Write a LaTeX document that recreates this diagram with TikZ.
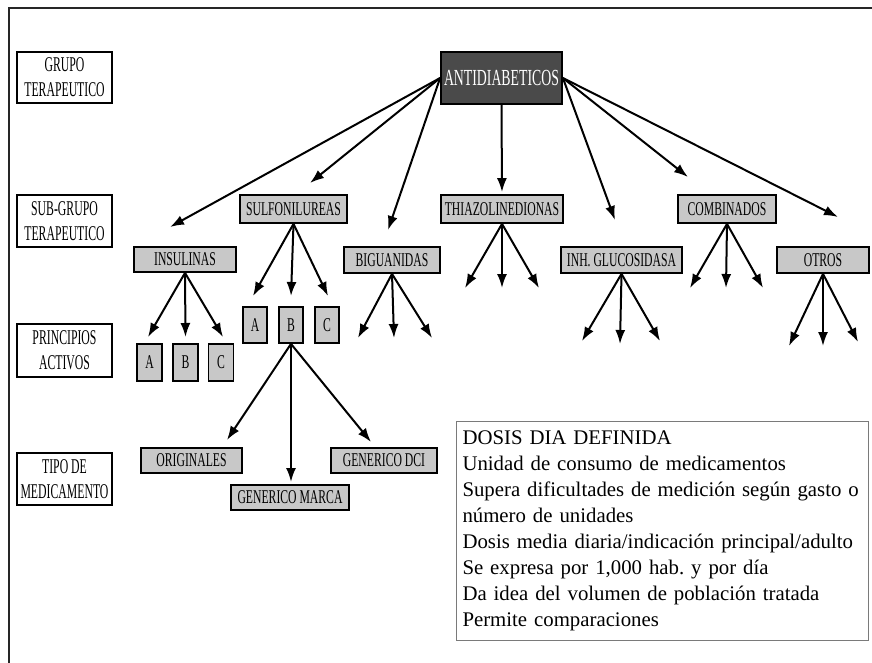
\documentclass[tikz,border=0pt]{standalone}
\usepackage{fontspec}
\setmainfont{Liberation Serif}
\newfontfamily\condfont[FakeStretch=0.6]{Liberation Serif}
\newfontfamily\lblfont[FakeStretch=0.56]{Liberation Serif}
\usetikzlibrary{arrows.meta}
\definecolor{lgray}{HTML}{C8C8C8}
\definecolor{dgray}{HTML}{4A4A4A}
\definecolor{bgray}{HTML}{7A7A7A}
\frenchspacing
\begin{document}
\begin{tikzpicture}[x=1pt,y=-1pt,
  lbl/.style={draw=black, line width=1.6pt, fill=white, inner sep=0pt, align=center,
    font=\lblfont\fontsize{21}{25}\selectfont},
  gbox/.style={draw=black, line width=1.8pt, fill=lgray, inner sep=0pt,
    font=\condfont\fontsize{19.5}{24}\selectfont},
  arr/.style={line width=2pt, -{Latex[length=14pt,width=10pt]}},
  frame/.style={line width=2.4pt, draw=black!85}
]
\useasboundingbox (0,0) rectangle (872,663);
% outer frame (top and left)
\coordinate (fTL) at (9,8);
\coordinate (fTR) at (872,8);
\coordinate (fBL) at (9,663);
\draw[frame] (fTR) -- (fTL) -- (fBL);

% level labels
\node[lbl, minimum width=95pt, minimum height=51pt] (l1) at (64.5,77.5) {GRUPO\\TERAPEUTICO};
\node[lbl, minimum width=95pt, minimum height=52pt] (l2) at (64.5,221) {SUB-GRUPO\\TERAPEUTICO};
\node[lbl, minimum width=95pt, minimum height=53pt] (l3) at (64.5,350.5) {PRINCIPIOS\\ACTIVOS};
\node[lbl, minimum width=95pt, minimum height=52pt] (l4) at (64.5,479) {TIPO DE\\MEDICAMENTO};

% root
\node[draw=black, line width=1.8pt, fill=dgray, text=white, inner sep=0pt,
  minimum width=121pt, minimum height=52pt, font=\condfont\fontsize{23}{26}\selectfont]
  (anti) at (501.5,78) {ANTIDIABETICOS};

% sub-groups
\node[gbox, minimum width=107pt, minimum height=28pt] (sulf) at (293.5,209) {SULFONILUREAS};
\node[gbox, minimum width=102pt, minimum height=25pt] (insu) at (185,259.5) {INSULINAS};
\node[gbox, minimum width=96pt, minimum height=26pt] (bigu) at (392,260) {BIGUANIDAS};
\node[gbox, minimum width=122pt, minimum height=28pt] (thia) at (502,209) {THIAZOLINEDIONAS};
\node[gbox, minimum width=121pt, minimum height=26pt] (inh) at (621.5,260) {INH. GLUCOSIDASA};
\node[gbox, minimum width=98pt, minimum height=28pt] (comb) at (727,209) {COMBINADOS};
\node[gbox, minimum width=92pt, minimum height=26pt] (otros) at (823,260) {OTROS};

% principles
\node[gbox, minimum width=25pt, minimum height=37pt] (iA) at (149.5,362.5) {A};
\node[gbox, minimum width=25pt, minimum height=37pt] (iB) at (185.5,362.5) {B};
\node[gbox, minimum width=25pt, minimum height=37pt] (iC) at (221,362.5) {C};
\node[gbox, minimum width=24pt, minimum height=36pt] (sA) at (255,325) {A};
\node[gbox, minimum width=24pt, minimum height=36pt] (sB) at (291,325) {B};
\node[gbox, minimum width=24pt, minimum height=36pt] (sC) at (327,325) {C};

% types
\node[gbox, minimum width=101pt, minimum height=25pt] (orig) at (191.5,460.5) {ORIGINALES};
\node[gbox, minimum width=118pt, minimum height=25pt] (gmar) at (290,497.5) {GENERICO MARCA};
\node[gbox, minimum width=106pt, minimum height=25pt] (gdci) at (384,460.5) {GENERICO DCI};

% DDD box
\node[draw=bgray, line width=1pt, anchor=north west, text width=400pt, inner xsep=6pt,
  inner ysep=0pt, minimum height=219pt, align=left,
  font=\fontsize{20.8}{26}\selectfont] (ddd) at (456,421)
  {DOSIS DIA DEFINIDA\\
   Unidad de consumo de medicamentos\\
   Supera dificultades de medición según gasto o\\
   número de unidades\\
   Dosis media diaria/indicación principal/adulto\\
   Se expresa por 1,000 hab. y por día\\
   Da idea del volumen de población tratada\\
   Permite comparaciones};

% arrow tips (free ends)
\coordinate (tInsu) at (170,227);
\coordinate (tSulf) at (310,183);
\coordinate (tBigu) at (388,230);
\coordinate (tInh) at (615,220);
\coordinate (tComb) at (688,177);
\coordinate (tOtros) at (838,217);

\draw[arr] (anti.west) -- (tInsu);
\draw[arr] (anti.west) -- (tSulf);
\draw[arr] (anti.west) -- (tBigu);
\draw[arr, shorten >=2pt] (anti.south) -- (thia.north);
\draw[arr] (anti.east) -- (tInh);
\draw[arr] (anti.east) -- (tComb);
\draw[arr] (anti.east) -- (tOtros);

% insulinas -> A B C
\coordinate (iAt) at (148,337);
\coordinate (iBt) at (185.5,337);
\coordinate (iCt) at (223,337);
\draw[arr] (insu.south) -- (iAt);
\draw[arr] (insu.south) -- (iBt);
\draw[arr] (insu.south) -- (iCt);

% sulfonilureas -> A B C
\coordinate (sAt) at (253,296);
\coordinate (sBt) at (291,296);
\coordinate (sCt) at (328,296);
\draw[arr] (sulf.south) -- (sAt);
\draw[arr] (sulf.south) -- (sBt);
\draw[arr] (sulf.south) -- (sCt);

% B -> types
\coordinate (oT) at (227,440);
\coordinate (mT) at (291,482);
\coordinate (dT) at (371,442);
\draw[arr] (sB.south) -- (oT);
\draw[arr] (sB.south) -- (mT);
\draw[arr] (sB.south) -- (dT);

% free fans
\coordinate (b1) at (358,338);
\coordinate (b2) at (394,338);
\coordinate (b3) at (432,338);
\draw[arr] (bigu.south) -- (b1);
\draw[arr] (bigu.south) -- (b2);
\draw[arr] (bigu.south) -- (b3);

\coordinate (t1) at (465,288);
\coordinate (t2) at (502,288);
\coordinate (t3) at (539,288);
\draw[arr] (thia.south) -- (t1);
\draw[arr] (thia.south) -- (t2);
\draw[arr] (thia.south) -- (t3);

\coordinate (g1) at (582,341);
\coordinate (g2) at (620,344);
\coordinate (g3) at (660,341);
\draw[arr] (inh.south) -- (g1);
\draw[arr] (inh.south) -- (g2);
\draw[arr] (inh.south) -- (g3);

\coordinate (c1) at (690,288);
\coordinate (c2) at (726,288);
\coordinate (c3) at (763,288);
\draw[arr] (comb.south) -- (c1);
\draw[arr] (comb.south) -- (c2);
\draw[arr] (comb.south) -- (c3);

\coordinate (o1) at (789,346);
\coordinate (o2) at (823,346);
\coordinate (o3) at (858,342);
\draw[arr] (otros.south) -- (o1);
\draw[arr] (otros.south) -- (o2);
\draw[arr] (otros.south) -- (o3);
\end{tikzpicture}
\end{document}
